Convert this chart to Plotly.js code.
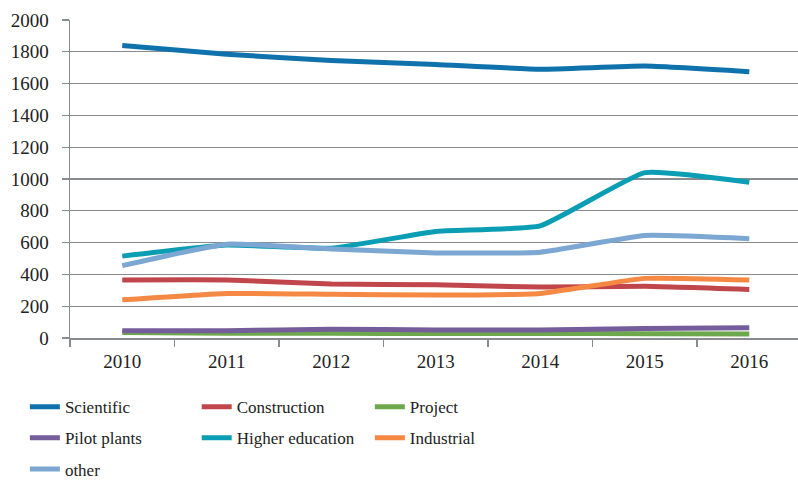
<!DOCTYPE html>
<html>
<head>
<meta charset="utf-8">
<script src="https://cdn.plot.ly/plotly-3.0.1.min.js"></script>
<style>
html,body{margin:0;padding:0;background:#fff}
#chart{width:798px;height:481px}
#chart text{font-family:"Liberation Serif","Times New Roman",serif !important;}
</style>
</head>
<body>
<div id="chart"></div>
<script>
var years = ["2010", "2011", "2012", "2013", "2014", "2015", "2016"];
var scientific = [1840, 1785, 1745, 1720, 1690, 1710, 1675];
var construction = [365, 365, 340, 335, 320, 325, 305];
var project = [35, 30, 30, 28, 28, 27, 25];
var pilotPlants = [45, 46, 55, 50, 50, 60, 65];
var higherEducation = [515, 585, 565, 670, 705, 1040, 980];
var industrial = [240, 280, 275, 270, 280, 375, 365];
var other = [455, 590, 560, 535, 540, 645, 625];
var yTicks = [0, 200, 400, 600, 800, 1000, 1200, 1400, 1600, 1800, 2000];

var series = [
  {name: "Scientific", y: scientific, color: "#0f72ac", legend: "legend"},
  {name: "Construction", y: construction, color: "#c0464b", legend: "legend2"},
  {name: "Project", y: project, color: "#6ea84c", legend: "legend3"},
  {name: "Pilot plants", y: pilotPlants, color: "#755d9b", legend: "legend"},
  {name: "Higher education", y: higherEducation, color: "#0a9db3", legend: "legend2"},
  {name: "Industrial", y: industrial, color: "#f58943", legend: "legend3"},
  {name: "other", y: other, color: "#7ca7d2", legend: "legend"}
];

var data = series.map(function(s){
  return {
    type: "scatter", mode: "lines", x: years, y: s.y, name: s.name,
    legend: s.legend, legendgroup: s.name,
    line: {color: s.color, width: 5, shape: "spline", smoothing: 0.4},
    hoverinfo: "skip"
  };
});

function mkFont(sz){ return {family: "Times New Roman", size: sz, color: "#222"}; }
function leg(x){
  return {x: x, y: 0.191, xref: "container", yref: "container", xanchor: "left", yanchor: "top", orientation: "v",
    traceorder: "grouped", tracegroupgap: 6, font: mkFont(17), bgcolor: "rgba(0,0,0,0)", borderwidth: 0};
}

var layout = {
  width: 798, height: 481,
  margin: {l: 70, r: 0, t: 20, b: 143, autoexpand: false},
  paper_bgcolor: "#fff", plot_bgcolor: "#fff",
  showlegend: true,
  legend: leg(0.0312),
  legend2: leg(0.2465),
  legend3: leg(0.4635),
  xaxis: {
    type: "category", range: [-0.5, 6.466], automargin: false,
    showgrid: false, showline: true, linecolor: "#888c8e", linewidth: 1.5,
    ticks: "outside", tickson: "boundaries", ticklen: 7, tickcolor: "#888c8e", tickwidth: 1.5,
    ticklabelstandoff: 6,
    tickfont: mkFont(19), zeroline: false
  },
  yaxis: {
    range: [0, 2000], tickvals: yTicks, ticktext: yTicks.map(String), automargin: false,
    showgrid: true, gridcolor: "#888c8e", gridwidth: 1.3,
    showline: true, linecolor: "#888c8e", linewidth: 1.5,
    ticks: "outside", ticklen: 7, tickcolor: "#888c8e", tickwidth: 1.3,
    ticklabelstandoff: 9,
    tickfont: mkFont(19), zeroline: false
  }
};

Plotly.newPlot("chart", data, layout, {staticPlot: true, displayModeBar: false});
</script>
</body>
</html>
